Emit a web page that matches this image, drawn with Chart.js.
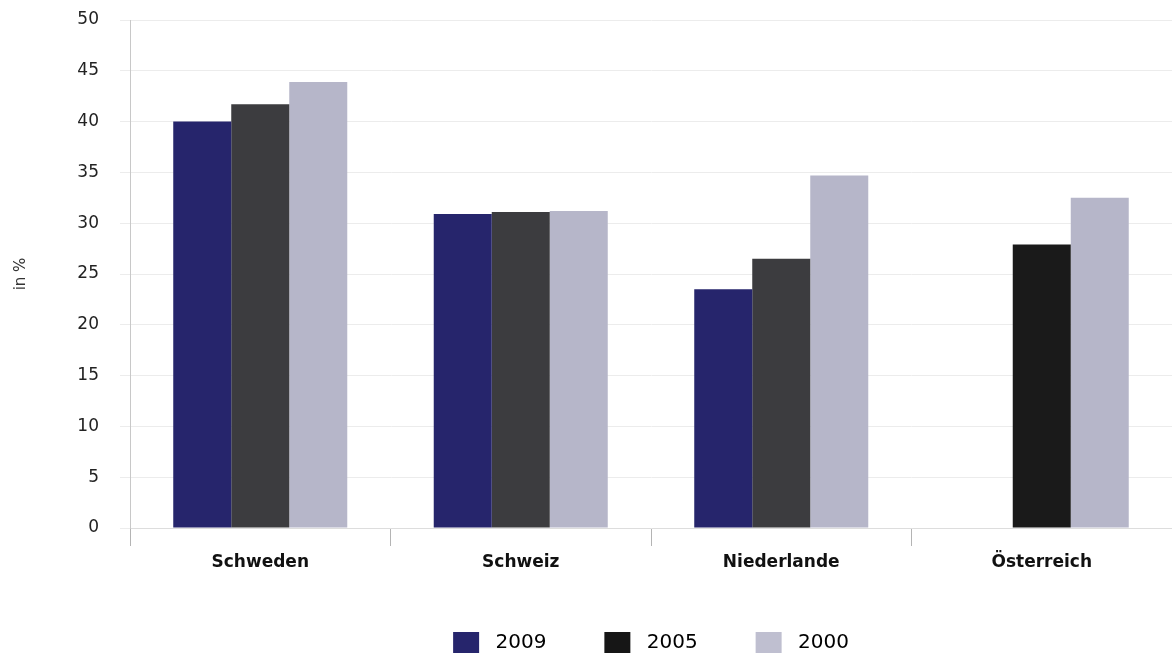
<!DOCTYPE html>
<html>
<head>
<meta charset="utf-8">
<script src="https://cdn.jsdelivr.net/npm/chart.js@4.4.0/dist/chart.umd.min.js"></script>
<style>
  html, body { margin: 0; padding: 0; background: #ffffff; }
  #wrap { width: 1172px; height: 663px; position: relative; }
</style>
</head>
<body>
<div id="wrap"><canvas id="chart"></canvas></div>
<script>
// Countries on the category axis
const countries = ['Schweden', 'Schweiz', 'Niederlande', 'Österreich'];

// Survey years (one bar per year and country)
const years = ['2009', '2005', '2000'];

// Shares in percent per year
const share2009 = [40.0, 30.9, 23.5, null];
const share2005 = [41.7, 31.1, 26.5, 27.9];
const share2000 = [43.9, 31.2, 34.7, 32.5];

// Value axis ticks
const yMin = 0;
const yMax = 50;
const yStep = 5;

// Colours
const colour2009 = '#26256c';
const colour2005Bars = ['#3c3c3f', '#3c3c3f', '#3c3c3f', '#1a1a1a'];
const colour2005Key = '#161616';
const colour2000 = '#b6b6c9';

const FONT = 'DejaVu Sans';

const ctx = document.getElementById('chart');
new Chart(ctx, {
  type: 'bar',
  data: {
    labels: countries,
    datasets: [
      { label: years[0], data: share2009, backgroundColor: colour2009, borderWidth: 0, keyColour: colour2009 },
      { label: years[1], data: share2005, backgroundColor: colour2005Bars, borderWidth: 0, keyColour: colour2005Key },
      { label: years[2], data: share2000, backgroundColor: colour2000, borderWidth: 0, keyColour: '#bfbfd0' }
    ]
  },
  options: {
    responsive: true,
    maintainAspectRatio: false,
    animation: false,
    layout: { padding: { top: 20, left: 0, right: 0, bottom: 0 } },
    datasets: {
      bar: { categoryPercentage: 0.668, barPercentage: 1.0 }
    },
    plugins: {
      tooltip: { enabled: false },
      legend: {
        position: 'bottom',
        fullSize: false,
        labels: {
          boxWidth: 26,
          boxHeight: 21,
          padding: 58,
          color: '#222222',
          font: { family: FONT, size: 20 },
          generateLabels(chart) {
            return chart.data.datasets.map((ds, i) => ({
              text: ' ' + ds.label,
              fillStyle: ds.keyColour,
              strokeStyle: ds.keyColour,
              lineWidth: 0,
              hidden: false,
              datasetIndex: i
            }));
          }
        }
      }
    },
    scales: {
      x: {
        grid: {
          offset: true,
          drawOnChartArea: false,
          drawTicks: true,
          tickLength: 18,
          color: '#b4b4b4'
        },
        border: { display: true, color: '#dddddd' },
        ticks: {
          padding: 6,
          color: '#111111',
          font: { family: FONT, size: 17, weight: 'bold' }
        },
        afterFit(scale) { scale.height = 46; }
      },
      y: {
        min: yMin,
        max: yMax,
        ticks: {
          stepSize: yStep,
          padding: 21,
          color: '#222222',
          font: { family: FONT, size: 17 }
        },
        grid: {
          color: '#ececec',
          drawTicks: true,
          tickLength: 10
        },
        border: { display: true, color: '#c8c8c8' },
        title: {
          display: true,
          text: 'in %',
          color: '#333333',
          font: { family: FONT, size: 15 },
          padding: { top: 12, bottom: 0 }
        },
        afterFit(scale) {
          scale.width = 130;
          scale.paddingTop = 0;
          scale.paddingBottom = 0;
        }
      }
    }
  }
});
</script>
</body>
</html>
